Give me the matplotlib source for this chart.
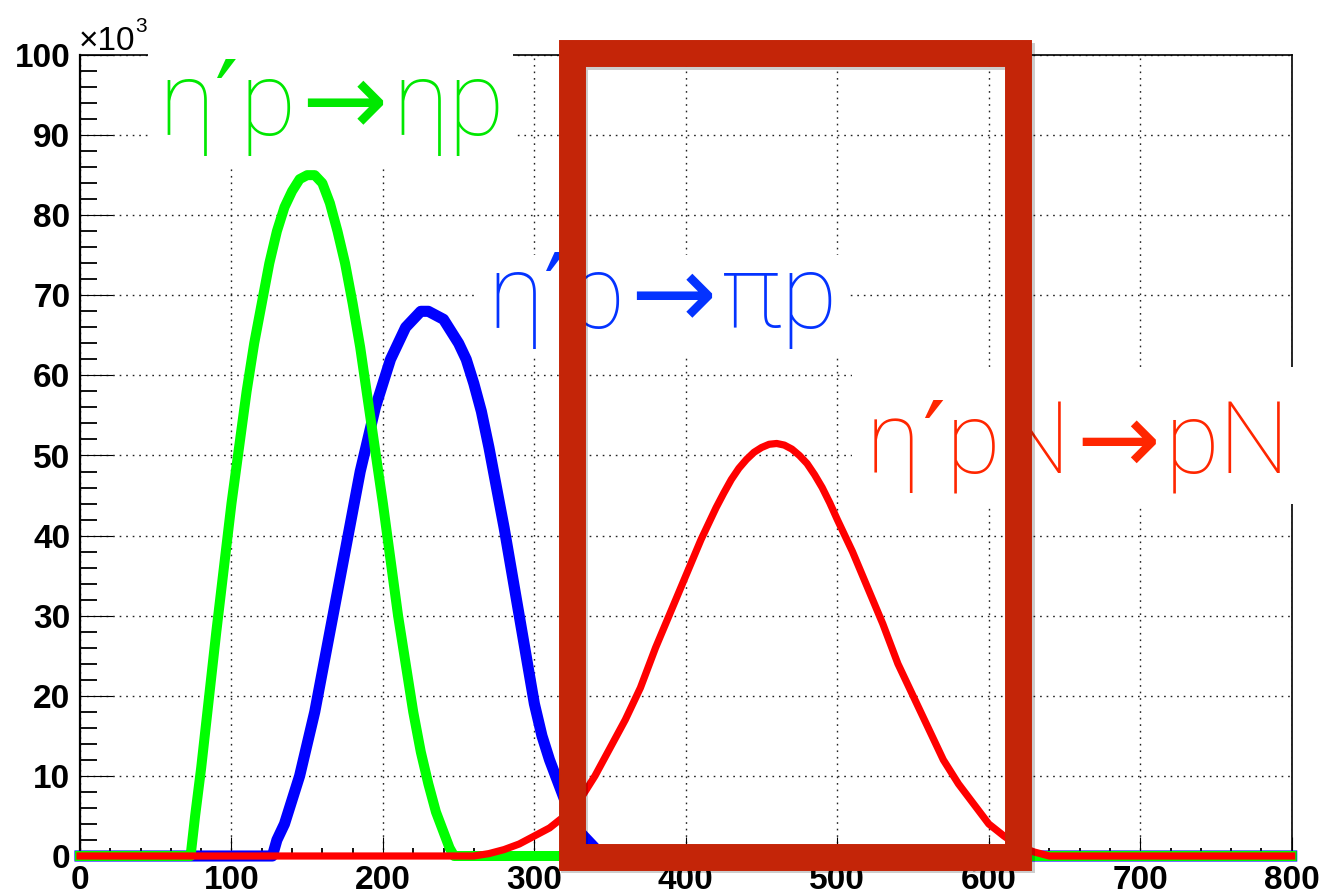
import matplotlib
matplotlib.use("Agg")
import matplotlib.pyplot as plt
from matplotlib.patches import Rectangle
from matplotlib.ticker import MultipleLocator
import matplotlib.patheffects as pe

# ---------------- data (y in units of 10^3) ----------------
green_x = [0, 73, 76, 80, 85, 90, 95, 100, 105, 110, 115, 120, 125, 130, 135, 140, 145, 150, 155, 160, 165, 170,
           175, 180, 185, 190, 195, 200, 205, 210, 215, 220, 225, 230, 235, 240, 244, 247, 800]
green_y = [0, 0, 5, 11, 19.5, 28, 36, 44, 51, 58, 64, 69, 74, 78, 81, 83, 84.5, 85, 85, 84, 81.5, 78,
           74, 69, 63.5, 57, 50.5, 44, 37, 30, 24, 18, 13, 9, 5.5, 3, 1, 0, 0]

blue_x = [0, 127, 130, 135, 140, 145, 150, 155, 160, 165, 170, 175, 180, 185, 190, 195, 200, 205, 210, 215, 220,
          225, 230, 235, 240, 245, 250, 255, 260, 265, 270, 275, 280, 285, 290, 295, 300, 305, 310, 315, 320,
          325, 330, 335, 340, 345, 800]
blue_y = [0, 0, 2, 4, 7, 10, 14, 18, 23, 28, 33, 38, 43, 48, 52, 56, 59, 62, 64, 66, 67,
          68, 68, 67.5, 67, 65.5, 64, 62, 59, 55.5, 51, 46, 41, 35.5, 30, 24.5, 19, 15, 12, 9.5, 7,
          5, 3, 2, 1, 0, 0]

red_x = [0, 260, 270, 280, 290, 300, 310, 320, 330, 340, 350, 360, 370, 380, 390, 400, 410, 420, 425, 430, 435,
         440, 445, 450, 455, 460, 465, 470, 475, 480, 485, 490, 495, 500, 510, 520, 530, 540, 550, 560, 570,
         580, 590, 600, 610, 620, 630, 640, 800]
red_y = [0, 0, 0.3, 0.8, 1.5, 2.5, 3.5, 5, 7, 10, 13.5, 17, 21, 26, 30.5, 35, 39.5, 43.5, 45.3, 47, 48.4,
         49.5, 50.4, 51, 51.4, 51.5, 51.3, 50.8, 50, 49, 47.6, 46, 44.1, 42, 38, 33.5, 29, 24, 20, 16, 12,
         9, 6.5, 4, 2.5, 1.2, 0.5, 0, 0]

x_ticks = [0, 100, 200, 300, 400, 500, 600, 700, 800]
y_ticks = [0, 10, 20, 30, 40, 50, 60, 70, 80, 90, 100]

# label pieces: (text, role)  role: 't' = base text, 'q' = prime, 'a' = arrow
label_green = [("η", "t"), ("′", "q"), ("p", "t"), ("→", "a"), ("ηp", "t")]
label_blue = [("η", "t"), ("′", "q"), ("p", "t"), ("→", "a"), ("πp", "t")]
label_red = [("η", "t"), ("′", "q"), ("pN", "t"), ("→", "a"), ("pN", "t")]

# ---------------- figure ----------------
W, H = 1326, 896
fig = plt.figure(figsize=(W / 100, H / 100), dpi=100)
fig.patch.set_facecolor("white")


def fx(px):
    return px / W


def fy(py):
    return (H - py) / H


ax = fig.add_axes([fx(80), fy(856), fx(1291.7) - fx(80), fy(55) - fy(856)])
ax.set_xlim(0, 800)
ax.set_ylim(0, 100)

ax.plot(blue_x, blue_y, color="#0000FF", lw=8, solid_joinstyle="round", zorder=3, clip_on=False)
ax.plot(green_x, green_y, color="#00FF00", lw=7.2, solid_joinstyle="round", zorder=4, clip_on=False)
ax.plot(red_x, red_y, color="#FF0000", lw=5.2, solid_joinstyle="round", zorder=5, clip_on=False)

ax.set_xticks(x_ticks)
ax.set_yticks(y_ticks)
ax.xaxis.set_minor_locator(MultipleLocator(20))
ax.yaxis.set_minor_locator(MultipleLocator(2))

tick_font = dict(family="Liberation Sans", weight="bold", size=24)
ax.set_xticklabels([str(v) for v in x_ticks], fontdict=tick_font)
ax.set_yticklabels([str(v) for v in y_ticks], fontdict=tick_font)

ax.tick_params(axis="both", which="both", direction="in", top=False, right=False, color="black")
ax.tick_params(axis="y", which="major", length=24, width=0.8, pad=7)
ax.tick_params(axis="y", which="minor", length=12, width=1.3)
ax.tick_params(axis="x", which="major", length=14, width=0.8, pad=6.5)
ax.tick_params(axis="x", which="minor", length=6, width=1.3)

ax.grid(True, which="major", color="#222222", linestyle=(0, (1.2, 3.5)), linewidth=1.0)
for s in ax.spines.values():
    s.set_color("black")
    s.set_linewidth(1.2)
ax.spines["left"].set_linewidth(1.6)

# white backgrounds behind labels (cover grid and frame)
for (x0, y0, x1, y1) in [(148, 25, 513, 168), (475, 255, 847, 355), (852, 367, 1326, 504)]:
    ax.add_patch(Rectangle((fx(x0), fy(y1)), fx(x1) - fx(x0), fy(y0) - fy(y1),
                           transform=fig.transFigure, facecolor="white", edgecolor="none",
                           zorder=2.6, clip_on=False))

# ×10^3 multiplier
fig.text(fx(79), fy(50), "×10", fontfamily="Liberation Sans", fontsize=24, ha="left", va="baseline")
fig.text(fx(135), fy(32), "3", fontfamily="Liberation Sans", fontsize=15, ha="left", va="baseline")

# big labels, drawn piece by piece on a common baseline
renderer = fig.canvas.get_renderer()
roles = {
    "t": dict(family=["Roboto", "DejaVu Sans"], weight="light"),
    "q": dict(family=["DejaVu Sans"], weight="normal"),
    "a": dict(family=["DejaVu Sans"], weight="normal"),
}
gaps = {"t": 0, "q": 1, "a": 5}


def draw_label(x_px, y_px, pieces, color, size):
    x = x_px
    for txt, role in pieces:
        x += gaps[role]
        t = fig.text(fx(x), fy(y_px), txt, color=color, fontsize=size, ha="left", va="baseline",
                     zorder=2, **roles[role])
        bb = t.get_window_extent(renderer)
        x += bb.width + gaps[role]


draw_label(158, 135, label_green, "#00E800", 74)
draw_label(487, 328, label_blue, "#0433FF", 74)
draw_label(866, 473, label_red, "#FF2600", 72)

# highlight box
box = Rectangle((fx(571.5), fy(856.5)), fx(1018) - fx(571.5), fy(53.5) - fy(856.5),
                transform=fig.transFigure, fill=False, edgecolor="#C42508", linewidth=19.4,
                joinstyle="miter", zorder=10)
box.set_path_effects([pe.SimpleLineShadow(offset=(2, -2), shadow_color="black", alpha=0.2), pe.Normal()])
fig.add_artist(box)

fig.savefig("out.png", dpi=100, facecolor="white")
